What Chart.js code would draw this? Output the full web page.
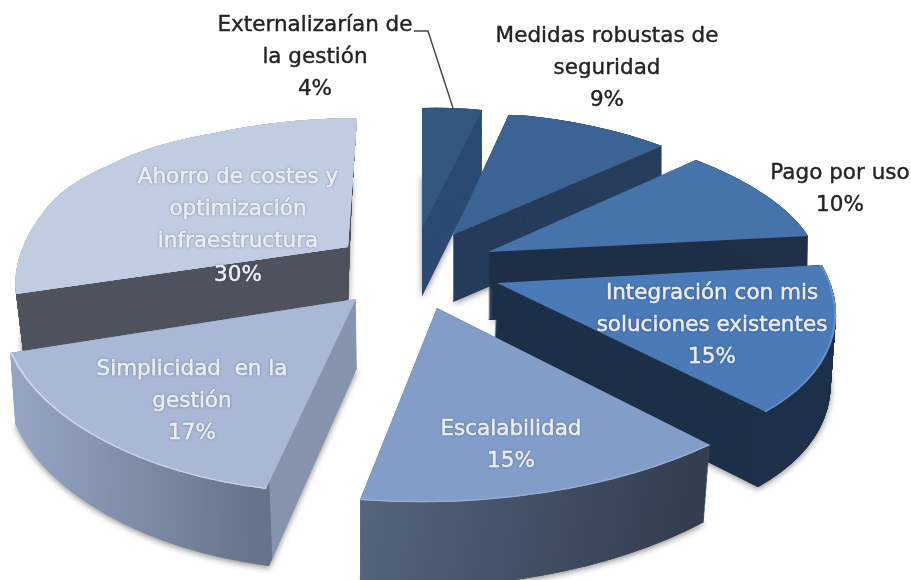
<!DOCTYPE html>
<html><head><meta charset="utf-8">
<style>html,body{margin:0;padding:0;background:#fff}canvas{display:block;filter:blur(0.5px)}</style>
<script src="https://cdn.jsdelivr.net/npm/chart.js@4"></script>
</head><body><canvas id="c" width="911" height="580"></canvas>
<script>
// ---- data ----
const categories = ["Externalizarían de la gestión","Medidas robustas de seguridad","Pago por uso","Integración con mis soluciones existentes","Escalabilidad","Simplicidad en la gestión","Ahorro de costes y optimización infraestructura"];
const values = [4,9,10,15,15,17,30];
const topColors = ["#33577f","#3b6494","#4673aa","#4a7ab8","#829dc8","#a9b8d5","#c0cce0"];
const edgeColors = ["#33577f","#3b6494","#4673aa","#6790c6","#9ab2d6","#c9d6ec","#c0cce0"];
const cutColors = ["#2b4a73","#263c5c","#1e2f47","#1e3049","#4b5a73","#8794ae","#4f535e"];
const wallFrom = ["#2b4a73","#263c5c","#1e2f47","#1e3049","#56677f","#98a7c5","#4f535e"];
const wallTo = ["#2b4a73","#263c5c","#1e2f47","#1e3049","#333e50","#66748a","#4f535e"];
const labelLines = [["Externalizarían de","la gestión"],["Medidas robustas de","seguridad"],["Pago por uso"],["Integración con mis","soluciones existentes"],["Escalabilidad"],["Simplicidad  en la","gestión"],["Ahorro de costes y","optimización","infraestructura"]];

// ---- layout: how each exploded slice is projected: apex, then rim stations, for top and bottom faces ----
const topFrames = [
  [[422,228],[422,108],[482,110]],
  [[453,235],[509,114],[662,146]],
  [[488,252],[696,160],[808,236]],
  [[497,283],[822,265],[766,412]],
  [[437,308],[710,445],[360,500]],
  [[356,299],[266,489],[10,353]],
  [[348,247],[16,294],[43,213],[110,165],[215,133],[357,118]]];
const bottomFrames = [
  [[422,296],[422,175],[482,175]],
  [[453,302],[509,180],[662,212]],
  [[488,320],[696,226],[807,304]],
  [[493,355],[818,337],[758,487]],
  [[437,375],[704,522],[360,585]],
  [[357,368],[269,566],[15,423]],
  [[348,306],[23.5,356],[47,271],[112,222],[216,190],[352,176]]];
const gradientSpan = [[422,482],[453,662],[488,808],[493,838],[360,704],[10,269],[16,352]];
const drawOrder = [6,0,1,2,3,4,5];
const labelCenters = [315,607,840,712,511,192,238];
const labelTops = [25,36,173,293,429,369,177];
const labelColors = ["#232323","#232323","#232323","#fff","#fff","#fff","#fff"];
const lineHeight = 32;
const leader = [[414,31],[428,31],[453,108]];
const labelFont = '21.5px "DejaVu Sans"';

function frameMatrix(arc, a0, a1, A, P0, P1){
  const R = arc.outerRadius, c0 = Math.cos(a0), s0 = Math.sin(a0), c1 = Math.cos(a1), s1 = Math.sin(a1);
  const det = R*R*(c0*s1 - c1*s0);
  const qa = P0[0]-A[0], qb = P1[0]-A[0], qc = P0[1]-A[1], qd = P1[1]-A[1];
  const m11 = (qa*R*s1 - qb*R*s0)/det, m12 = (-qa*R*c1 + qb*R*c0)/det;
  const m21 = (qc*R*s1 - qd*R*s0)/det, m22 = (-qc*R*c1 + qd*R*c0)/det;
  return [m11,m21,m12,m22,A[0]-m11*arc.x-m12*arc.y,A[1]-m21*arc.x-m22*arc.y];
}
function drawPiece(ctx, arc, a0, a1, fill, inner){
  const s = {o:arc.options,i:arc.innerRadius,a:arc.startAngle,b:arc.endAngle,c:arc.circumference};
  arc.options = {backgroundColor:fill,borderColor:fill,borderWidth:0,borderAlign:'center',borderRadius:0,offset:0,spacing:0,circular:true,borderJoinStyle:'round'};
  arc.innerRadius = inner; arc.startAngle = a0; arc.endAngle = a1; arc.circumference = a1-a0;
  arc.draw(ctx);
  arc.options = s.o; arc.innerRadius = s.i; arc.startAngle = s.a; arc.endAngle = s.b; arc.circumference = s.c;
}
const pie3d = {
  id:'pie3d',
  beforeDatasetDraw(chart){
    const ctx = chart.ctx, arcs = chart.getDatasetMeta(0).data;
    drawOrder.forEach(i=>{
      const arc = arcs[i], T = topFrames[i], B = bottomFrames[i];
      const n = T.length-2, step = (arc.endAngle-arc.startAngle)/n, pieces = [];
      for(let k=0;k<n;k++){
        const a0 = arc.startAngle+k*step, a1 = a0+step;
        pieces.push({a0, a1, last:k===n-1,
          top:frameMatrix(arc,a0,a1,T[0],T[k+1],T[k+2]),
          bot:frameMatrix(arc,a0,a1,B[0],B[k+1],B[k+2])});
      }
      const lapOf = p => (n>1 && !p.last) ? 0.02 : 0;
      const depth = Math.ceil(Math.abs(B[0][1]-T[0][1]));
      const mix = (p,t) => p.top.map((v,k)=>v+(p.bot[k]-v)*t);
      // soft cast shadow under the slab
      pieces.forEach(p=>{
        ctx.save();
        ctx.shadowColor='rgba(0,0,0,0.45)'; ctx.shadowBlur=6; ctx.shadowOffsetX=0; ctx.shadowOffsetY=2;
        ctx.setTransform(...p.bot);
        drawPiece(ctx,arc,p.a0,p.a1+lapOf(p),cutColors[i],0);
        ctx.restore();
      });
      // cut faces
      for(let d=depth;d>=0;d--) pieces.forEach(p=>{
        ctx.save(); ctx.setTransform(...mix(p,d/depth));
        drawPiece(ctx,arc,p.a0,p.a1+lapOf(p),cutColors[i],0);
        ctx.restore();
      });
      // rim wall, shaded left to right
      for(let d=depth;d>=0;d--) pieces.forEach(p=>{
        ctx.save();
        const m = new DOMMatrix(mix(p,d/depth));
        ctx.setTransform(m);
        const inv = m.inverse();
        const a = inv.transformPoint(new DOMPoint(gradientSpan[i][0],300));
        const b = inv.transformPoint(new DOMPoint(gradientSpan[i][1],300));
        const g = ctx.createLinearGradient(a.x,a.y,b.x,b.y);
        g.addColorStop(0,wallFrom[i]); g.addColorStop(1,wallTo[i]);
        drawPiece(ctx,arc,p.a0,p.a1+lapOf(p),g,arc.outerRadius*0.96);
        ctx.restore();
      });
      // top face and its lit rim; repeated so the seams between stations saturate
      for(let pass=0;pass<(n>1?4:1);pass++) pieces.forEach(p=>{
        ctx.save(); ctx.setTransform(...p.top);
        drawPiece(ctx,arc,p.a0,p.a1+lapOf(p),topColors[i],0);
        if(edgeColors[i]!==topColors[i]) drawPiece(ctx,arc,p.a0,p.a1+lapOf(p),edgeColors[i],arc.outerRadius*0.994);
        ctx.restore();
      });
    });
    return false;
  },
  afterDraw(chart){
    const ctx = chart.ctx;
    ctx.save();
    ctx.strokeStyle='#444'; ctx.lineWidth=1.4;
    ctx.beginPath(); leader.forEach((p,k)=>k?ctx.lineTo(p[0],p[1]):ctx.moveTo(p[0],p[1])); ctx.stroke();
    ctx.font=labelFont; ctx.textAlign='center'; ctx.textBaseline='middle'; ctx.lineWidth=0.4; ctx.lineJoin='round';
    labelLines.forEach((lines,i)=>{
      ctx.fillStyle=labelColors[i]; ctx.strokeStyle=labelColors[i];
      if(labelColors[i]==='#fff'){ctx.shadowColor='rgba(40,60,100,0.5)';ctx.shadowBlur=2;}else{ctx.shadowBlur=0;ctx.shadowColor='transparent';}
      lines.concat(values[i]+'%').forEach((t,k)=>{
        const extra = (i===6 && k===3) ? 2 : 0;
        ctx.fillText(t,labelCenters[i],labelTops[i]+k*lineHeight+extra);
        ctx.strokeText(t,labelCenters[i],labelTops[i]+k*lineHeight+extra);
      });
    });
    ctx.restore();
  }
};
new Chart(document.getElementById('c'),{
  type:'pie',
  data:{labels:categories,datasets:[{data:values,backgroundColor:topColors,borderWidth:0}]},
  options:{responsive:false,animation:false,plugins:{legend:{display:false},tooltip:{enabled:false}},layout:{padding:0}},
  plugins:[pie3d]
});
</script></body></html>
